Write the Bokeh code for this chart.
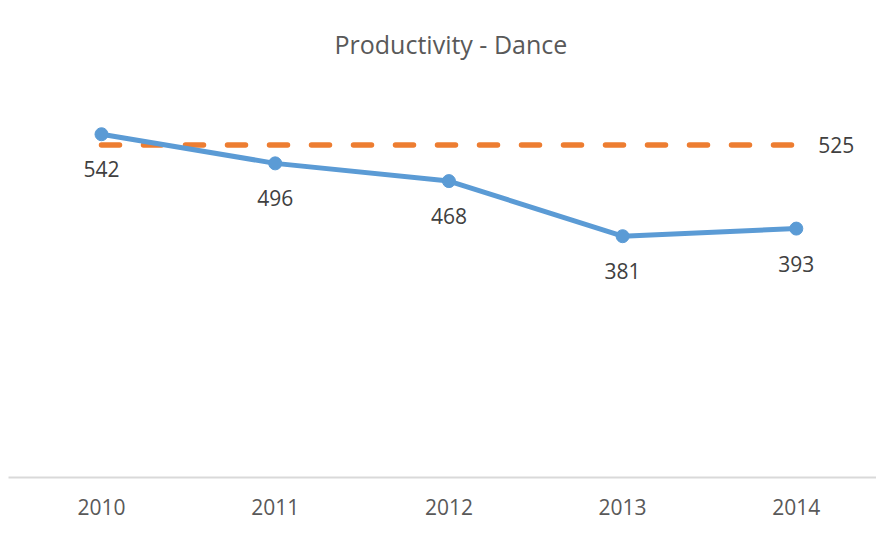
from bokeh.plotting import figure
from bokeh.models import Range1d, FixedTicker, ColumnDataSource
from bokeh.core.properties import value
from bokeh.embed import file_html
from bokeh.resources import INLINE

title = "Productivity - Dance"
categories = ["2010", "2011", "2012", "2013", "2014"]
productivity = [542, 496, 468, 381, 393]
target = [525, 525, 525, 525, 525]
target_label = "525"

FONT = "Open Sans"
xs = list(range(len(categories)))

W, H = 876, 519
LEFT, BOTTOM = 8, 42
PX_PER_CAT = 173.7
PX_PER_UNIT = 380 / 600
Y0_PX = 477          # pixel row of value 0
X0_PX = 101          # pixel column of first category
FRAME_BOTTOM = 477   # expected frame bottom

x_start = -(X0_PX - LEFT) / PX_PER_CAT
x_end = x_start + (W - LEFT) / PX_PER_CAT
y_start = (Y0_PX - FRAME_BOTTOM) / PX_PER_UNIT
y_end = Y0_PX / PX_PER_UNIT

p = figure(width=W, height=H, output_backend="svg", toolbar_location=None,
           x_range=Range1d(x_start, x_end), y_range=Range1d(y_start, y_end),
           y_axis_location=None, min_border=0, min_border_left=LEFT, min_border_right=0,
           min_border_top=0, min_border_bottom=BOTTOM)
p.outline_line_color = None
p.grid.visible = False
p.background_fill_color = "white"
p.border_fill_color = "white"

ax = p.xaxis[0]
ax.ticker = FixedTicker(ticks=xs)
ax.major_label_overrides = {i: c for i, c in enumerate(categories)}
ax.major_tick_line_color = None
ax.major_tick_out = 0
ax.major_tick_in = 0
ax.minor_tick_line_color = None
ax.axis_line_color = "#D9D9D9"
ax.axis_line_width = 2
ax.major_label_text_font = FONT
ax.major_label_text_font_size = "21px"
ax.major_label_text_color = "#595959"
ax.major_label_standoff = 21

src = ColumnDataSource(dict(x=xs, y=productivity, t=target,
                            lab=[str(v) for v in productivity]))

p.line("x", "t", source=src, line_color="#ED7D31", line_width=5.5,
       line_dash="18 24", line_cap="round")
p.line("x", "y", source=src, line_color="#5B9BD5", line_width=5, line_join="round")
p.scatter("x", "y", source=src, size=13, fill_color="#5B9BD5", line_color="#5B9BD5")

p.text("x", "y", text="lab", source=src, text_align="center", text_baseline="middle",
       y_offset=35, text_font=value(FONT), text_font_size="21px", text_color="#404040")

last = ColumnDataSource(dict(x=[xs[-1]], y=[target[-1]], t=[target_label]))
p.text("x", "y", text="t", source=last, text_align="left", text_baseline="middle",
       x_offset=22, text_font=value(FONT), text_font_size="21px", text_color="#404040")

ttl = ColumnDataSource(dict(x=[(len(categories) - 1) / 2], y=[(Y0_PX - 43) / PX_PER_UNIT],
                            t=[title]))
p.text("x", "y", text="t", source=ttl, text_align="center", text_baseline="middle",
       x_offset=2, text_font=value(FONT), text_font_size="25px", text_color="#595959")

open("out.html", "w").write(file_html(p, INLINE))
